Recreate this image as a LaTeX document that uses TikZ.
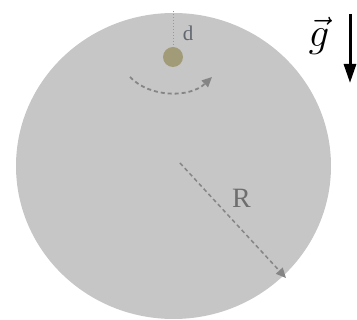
\documentclass[tikz,border=0pt]{standalone}
\usepackage{fontspec}
\setmainfont{Liberation Serif}
\usetikzlibrary{arrows.meta,shapes.geometric}
\definecolor{discgray}{HTML}{C6C6C6}
\definecolor{ballcol}{HTML}{A19B77}
\definecolor{dashcol}{HTML}{858585}
\definecolor{dcol}{HTML}{62666F}
\definecolor{rcol}{HTML}{6E6E6E}
\tikzset{
  disc/.style={ellipse, fill=discgray, minimum width=315pt, minimum height=306pt, inner sep=0pt},
  ball/.style={circle, fill=ballcol, minimum size=20pt, inner sep=0pt},
  dasharrow/.style={draw=dashcol, line width=1.8pt, dash pattern=on 4pt off 3pt, -{Triangle[length=10pt,width=9pt,fill=dashcol]}},
  lbl/.style={inner sep=0pt}
}
\begin{document}
\begin{tikzpicture}[x=1pt,y=-1pt]
\useasboundingbox (0,0) rectangle (357,320);
\node[disc] (disc) at (173.5,166) {};
\coordinate (top) at (173,11);
\node[ball] (ball) at (173,57) {};
\draw[gray!80, line width=1pt, dotted] (top) -- (ball.north);
\node[lbl, text=dcol, font=\fontsize{21}{21}\selectfont] (d) at (188,33) {d};
\coordinate (rotA) at (130,77);
\coordinate (rotB) at (212,77);
\draw[dasharrow] (rotA) .. controls (150,98) and (190,98) .. (rotB);
\coordinate (rA) at (180,163);
\coordinate (rB) at (286,278);
\draw[dasharrow, line width=1.5pt] (rA) -- (rB);
\node[lbl, text=rcol, font=\fontsize{28}{28}\selectfont] (R) at (241.5,198) {R};
\node[lbl, font=\fontsize{24}{24}\selectfont] (g) at (319,36) {\scalebox{1.65}{$\vec{g}$}};
\coordinate (gA) at (350,14);
\coordinate (gB) at (350,83);
\draw[line width=3pt, -{Triangle[length=19pt,width=12pt]}] (gA) -- (gB);
\end{tikzpicture}
\end{document}
